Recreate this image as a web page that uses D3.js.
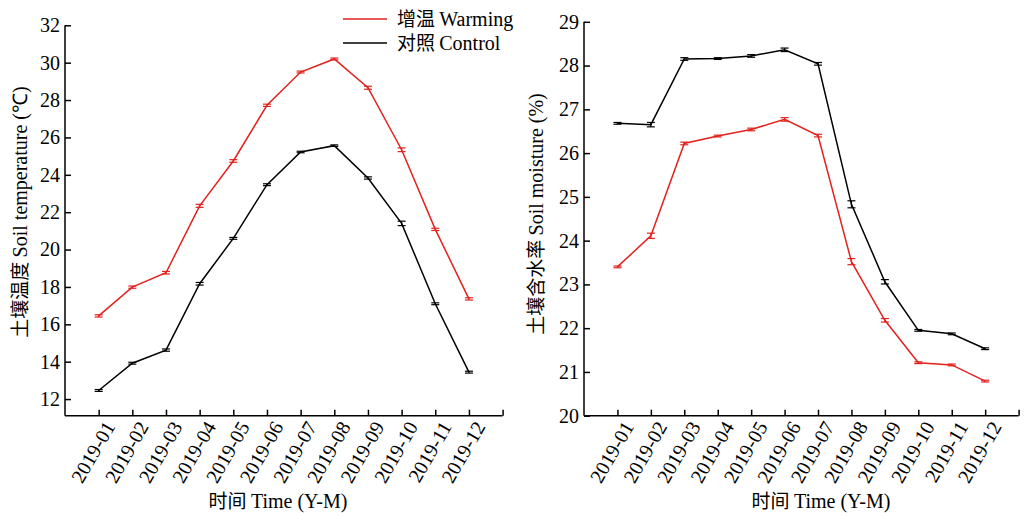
<!DOCTYPE html>
<html>
<head>
<meta charset="utf-8">
<script src="https://cdn.jsdelivr.net/npm/d3@7"></script>
<style>
  body { margin: 0; background: #fff; }
  svg { display: block; }
</style>
</head>
<body>
<div id="chart"></div>
<script>
'use strict';

// Months shown on both panels
const months = ['2019-01', '2019-02', '2019-03', '2019-04', '2019-05', '2019-06',
  '2019-07', '2019-08', '2019-09', '2019-10', '2019-11', '2019-12'];

// Soil temperature (°C)
const tempWarming = [16.45, 17.99, 18.76, 22.34, 24.74, 27.72, 29.5, 30.2, 28.66, 25.34, 21.08, 17.36];
const tempWarmingErr = [0.06, 0.06, 0.07, 0.08, 0.07, 0.06, 0.05, 0.05, 0.08, 0.1, 0.06, 0.06];
const tempControl = [12.46, 13.92, 14.62, 18.17, 20.6, 23.47, 25.22, 25.56, 23.83, 21.4, 17.1, 13.44];
const tempControlErr = [0.05, 0.05, 0.06, 0.07, 0.05, 0.05, 0.04, 0.04, 0.06, 0.12, 0.05, 0.05];

// Soil moisture (%)
const moistWarming = [23.4, 24.11, 26.22, 26.39, 26.54, 26.77, 26.4, 23.52, 22.18, 21.21, 21.16, 20.79];
const moistWarmingErr = [0.02, 0.06, 0.03, 0.02, 0.03, 0.04, 0.03, 0.07, 0.04, 0.02, 0.02, 0.02];
const moistControl = [26.68, 26.65, 28.15, 28.16, 28.22, 28.36, 28.04, 24.83, 23.06, 21.95, 21.87, 21.53];
const moistControlErr = [0.02, 0.05, 0.03, 0.02, 0.03, 0.04, 0.03, 0.08, 0.05, 0.02, 0.02, 0.02];

const tempTicks = [12, 14, 16, 18, 20, 22, 24, 26, 28, 30, 32];
const moistTicks = [20, 21, 22, 23, 24, 25, 26, 27, 28, 29];

const RED = '#e3211d';
const BLACK = '#000';
const SERIF = 'Liberation Serif';
const CJK = 'Noto Sans CJK SC';

const svg = d3.select('#chart').append('svg')
  .attr('width', 1024)
  .attr('height', 513);

/**
 * Write a label made of a Chinese part and a Latin part into `text`.
 */
function bilingual(text, zh, en) {
  text.append('tspan').attr('font-family', CJK).attr('font-size', 19).text(zh + ' ');
  text.append('tspan').attr('font-family', SERIF).text(en);
}

/**
 * Draw one panel: axes, two series with error bars and titles.
 */
function drawPanel(opts) {
  const g = svg.append('g');

  const x = d3.scaleLinear()
    .domain([0, months.length + 1])
    .range([opts.left, opts.right]);
  const y = d3.scaleLinear()
    .domain(opts.yDomain)
    .range([opts.bottom, opts.top]);

  // y axis, ticks pointing inwards
  const yAxis = g.append('g')
    .attr('transform', `translate(${opts.left},0)`)
    .call(d3.axisRight(y).tickValues(opts.yTicks).tickSize(6).tickFormat(d3.format('d')));
  yAxis.select('.domain').attr('d', `M0,${opts.bottom}V${y(opts.yDomain[1])}`);
  yAxis.selectAll('text')
    .attr('x', -5)
    .attr('text-anchor', 'end')
    .attr('font-family', SERIF)
    .attr('font-size', 20)
    .attr('fill', '#000');

  // x axis, ticks pointing inwards
  const xAxis = g.append('g')
    .attr('transform', `translate(0,${opts.bottom})`)
    .call(d3.axisTop(x).tickValues(d3.range(1, months.length + 2)).tickSize(6).tickFormat(''));
  xAxis.select('.domain').attr('d', `M${opts.left},0H${opts.right}`);

  g.selectAll('.xlabel')
    .data(months)
    .join('text')
    .attr('class', 'xlabel')
    .attr('text-anchor', 'end')
    .attr('font-family', SERIF)
    .attr('font-size', 20)
    .attr('transform', (d, i) => `translate(${x(i + 1) + 17},${opts.bottom + 11}) rotate(-60)`)
    .text(d => d);

  g.selectAll('.domain, .tick line')
    .attr('stroke', '#000')
    .attr('stroke-width', 1.5);

  const line = d3.line()
    .x((d, i) => x(i + 1))
    .y(d => y(d));

  opts.series.forEach(s => {
    g.append('path')
      .datum(s.values)
      .attr('fill', 'none')
      .attr('stroke', s.color)
      .attr('stroke-width', 1.5)
      .attr('d', line);

    const bars = g.append('g')
      .attr('stroke', s.color)
      .attr('stroke-width', 1.2);
    s.values.forEach((v, i) => {
      const cx = x(i + 1);
      const y0 = y(v - s.err[i]);
      const y1 = y(v + s.err[i]);
      bars.append('line').attr('x1', cx).attr('x2', cx).attr('y1', y0).attr('y2', y1);
      bars.append('line').attr('x1', cx - 4).attr('x2', cx + 4).attr('y1', y0).attr('y2', y0);
      bars.append('line').attr('x1', cx - 4).attr('x2', cx + 4).attr('y1', y1).attr('y2', y1);
    });
  });

  // axis titles
  const xTitle = g.append('text')
    .attr('text-anchor', 'middle')
    .attr('font-size', 20)
    .attr('x', opts.xTitleX)
    .attr('y', 508);
  bilingual(xTitle, '时间', 'Time (Y-M)');

  const yTitle = g.append('text')
    .attr('text-anchor', 'middle')
    .attr('font-size', 20)
    .attr('transform', `translate(${opts.yTitleX},${opts.yTitleY}) rotate(-90)`);
  bilingual(yTitle, opts.yTitleZh, opts.yTitleEn);

  return g;
}

const left = drawPanel({
  left: 65, right: 502.6, top: 25.3, bottom: 415.7,
  yDomain: [11.11, 32], yTicks: tempTicks,
  series: [
    {values: tempWarming, err: tempWarmingErr, color: RED},
    {values: tempControl, err: tempControlErr, color: BLACK}
  ],
  xTitleX: 278, yTitleX: 27, yTitleY: 212,
  yTitleZh: '土壤温度', yTitleEn: 'Soil temperature (℃)'
});

drawPanel({
  left: 584, right: 1018.6, top: 21.8, bottom: 415.7,
  yDomain: [20, 29], yTicks: moistTicks,
  series: [
    {values: moistWarming, err: moistWarmingErr, color: RED},
    {values: moistControl, err: moistControlErr, color: BLACK}
  ],
  xTitleX: 821, yTitleX: 543, yTitleY: 214,
  yTitleZh: '土壤含水率', yTitleEn: 'Soil moisture (%)'
});

// legend
const legend = left.append('g');
[{zh: '增温', en: 'Warming', color: RED, y: 19}, {zh: '对照', en: 'Control', color: BLACK, y: 43}]
  .forEach(item => {
    legend.append('line')
      .attr('x1', 343).attr('x2', 387)
      .attr('y1', item.y).attr('y2', item.y)
      .attr('stroke', item.color)
      .attr('stroke-width', 1.5);
    const t = legend.append('text')
      .attr('x', 397)
      .attr('y', item.y + 7)
      .attr('font-size', 20);
    bilingual(t, item.zh, item.en);
  });
</script>
</body>
</html>
